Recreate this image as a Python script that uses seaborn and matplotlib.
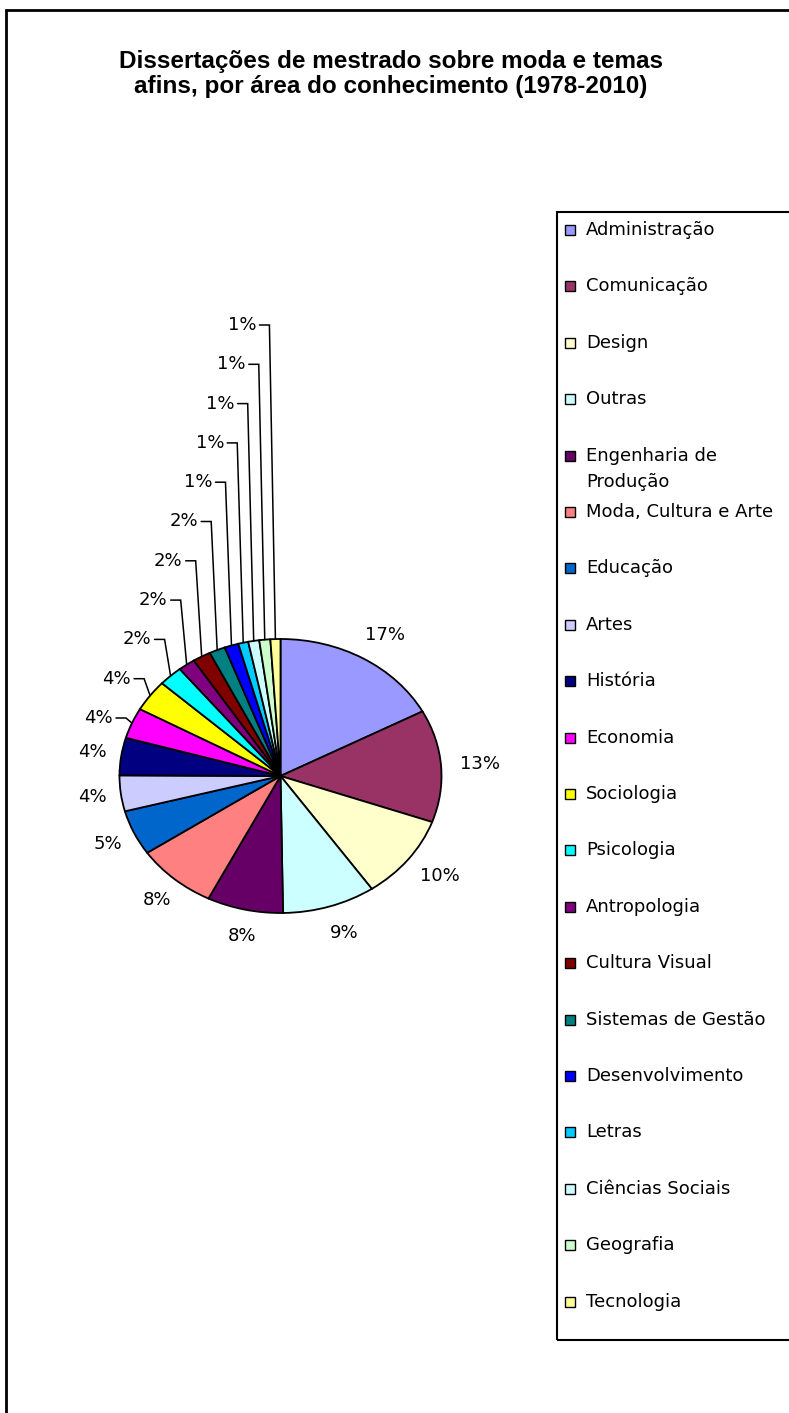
import numpy as np
import seaborn as sns
import matplotlib
matplotlib.use('Agg')
import matplotlib.pyplot as plt
from matplotlib.patches import Rectangle

# Áreas do conhecimento (ordem do gráfico) e participação em %
areas = ['Administração', 'Comunicação', 'Design', 'Outras',
         'Engenharia de\nProdução', 'Moda, Cultura e Arte', 'Educação', 'Artes',
         'História', 'Economia', 'Sociologia', 'Psicologia', 'Antropologia',
         'Cultura Visual', 'Sistemas de Gestão', 'Desenvolvimento', 'Letras',
         'Ciências Sociais', 'Geografia', 'Tecnologia']
shares = [17.1, 13.2, 9.9, 9.3, 7.6, 8.1, 5.3, 4.2, 4.4, 3.6,
          3.7, 2.4, 1.7, 1.8, 1.6, 1.4, 1.0, 1.1, 1.1, 1.0]
colors = ['#9999FF', '#993366', '#FFFFCC', '#CCFFFF', '#660066', '#FF8080',
          '#0066CC', '#CCCCFF', '#000080', '#FF00FF', '#FFFF00', '#00FFFF',
          '#800080', '#800000', '#008080', '#0000FF', '#00CCFF', '#CCFFFF',
          '#CCFFCC', '#FFFF99']
title = 'Dissertações de mestrado sobre moda e temas\nafins, por área do conhecimento (1978-2010)'

sns.set_theme(style='white')
plt.rcParams['font.family'] = ['DejaVu Sans']

W, H = 789, 1413
fig = plt.figure(figsize=(W / 100, H / 100), dpi=100)
fig.patch.set_facecolor('white')
ax = fig.add_axes([0, 0, 1, 1])

# pie centre / radii in pixels (the original pie is slightly elliptical)
cx, cy, rx, ry = 280.5, 776, 161, 137

wedges, _ = ax.pie(shares, colors=colors, startangle=90, counterclock=False,
                   wedgeprops=dict(edgecolor='black', linewidth=1.3))
ax.set_aspect('auto')
ax.set_xlim(-cx / rx, (W - cx) / rx)
ax.set_ylim(-(H - cy) / ry, cy / ry)
ax.axis('off')


def px(x, y):
    return (x - cx) / rx, (cy - y) / ry


total = sum(shares)
labels = ['%d%%' % round(v / total * 100) for v in shares]

# big slices: labels outside along the radius
n_big = 9
for w, lab in zip(wedges[:n_big], labels[:n_big]):
    a = np.deg2rad((w.theta1 + w.theta2) / 2)
    ax.text(1.21 * np.cos(a) + 0.03, 1.2 * np.sin(a), lab, ha='center', va='center',
            fontsize=13, color='black')

# small slices: stacked labels with leader lines
for k, (w, lab) in enumerate(zip(wedges[n_big:], labels[n_big:])):
    a = np.deg2rad((w.theta1 + w.theta2) / 2)
    ex, ey = cx + rx * np.cos(a), cy - ry * np.sin(a)
    ly = 718 - 39.3 * k
    elx = ex - 6
    xs, ys = zip(px(elx - 10, ly), px(elx, ly), px(ex, ey))
    ax.plot(xs, ys, color='black', lw=1.1, solid_joinstyle='miter')
    tx, ty = px(elx - 13, ly)
    ax.text(tx, ty, lab, ha='right', va='center', fontsize=13, color='black')

# legend (drawn by hand to keep Excel's even row pitch)
lx, ly0, pitch = 565, 230, 56.4
for i, (name, c) in enumerate(zip(areas, colors)):
    y = ly0 + pitch * i
    fig.add_artist(Rectangle((lx / W, 1 - (y + 5) / H), 10 / W, 10 / H,
                             transform=fig.transFigure, fc=c, ec='black', lw=1))
    for j, line in enumerate(name.split('\n')):
        fig.text(586 / W, 1 - (y + 26 * j) / H, line, ha='left', va='center',
                 fontsize=13, color='black')

fig.add_artist(Rectangle((557 / W, 1 - 1340 / H), (W + 20 - 557) / W, (1340 - 212) / H,
                         transform=fig.transFigure, fill=False, ec='black', lw=1.5))
# outer chart border (cut off on the right and bottom)
fig.add_artist(Rectangle((6 / W, -0.02), 1.1, 1.02 - 10 / H,
                         transform=fig.transFigure, fill=False, ec='black', lw=2))

fig.text(391 / W, 1 - 74 / H, title, ha='center', va='center', fontsize=17.5,
         fontweight='bold', family=['Liberation Sans', 'DejaVu Sans'],
         linespacing=1.1, color='black')

fig.savefig('out.png', dpi=100, facecolor='white')
